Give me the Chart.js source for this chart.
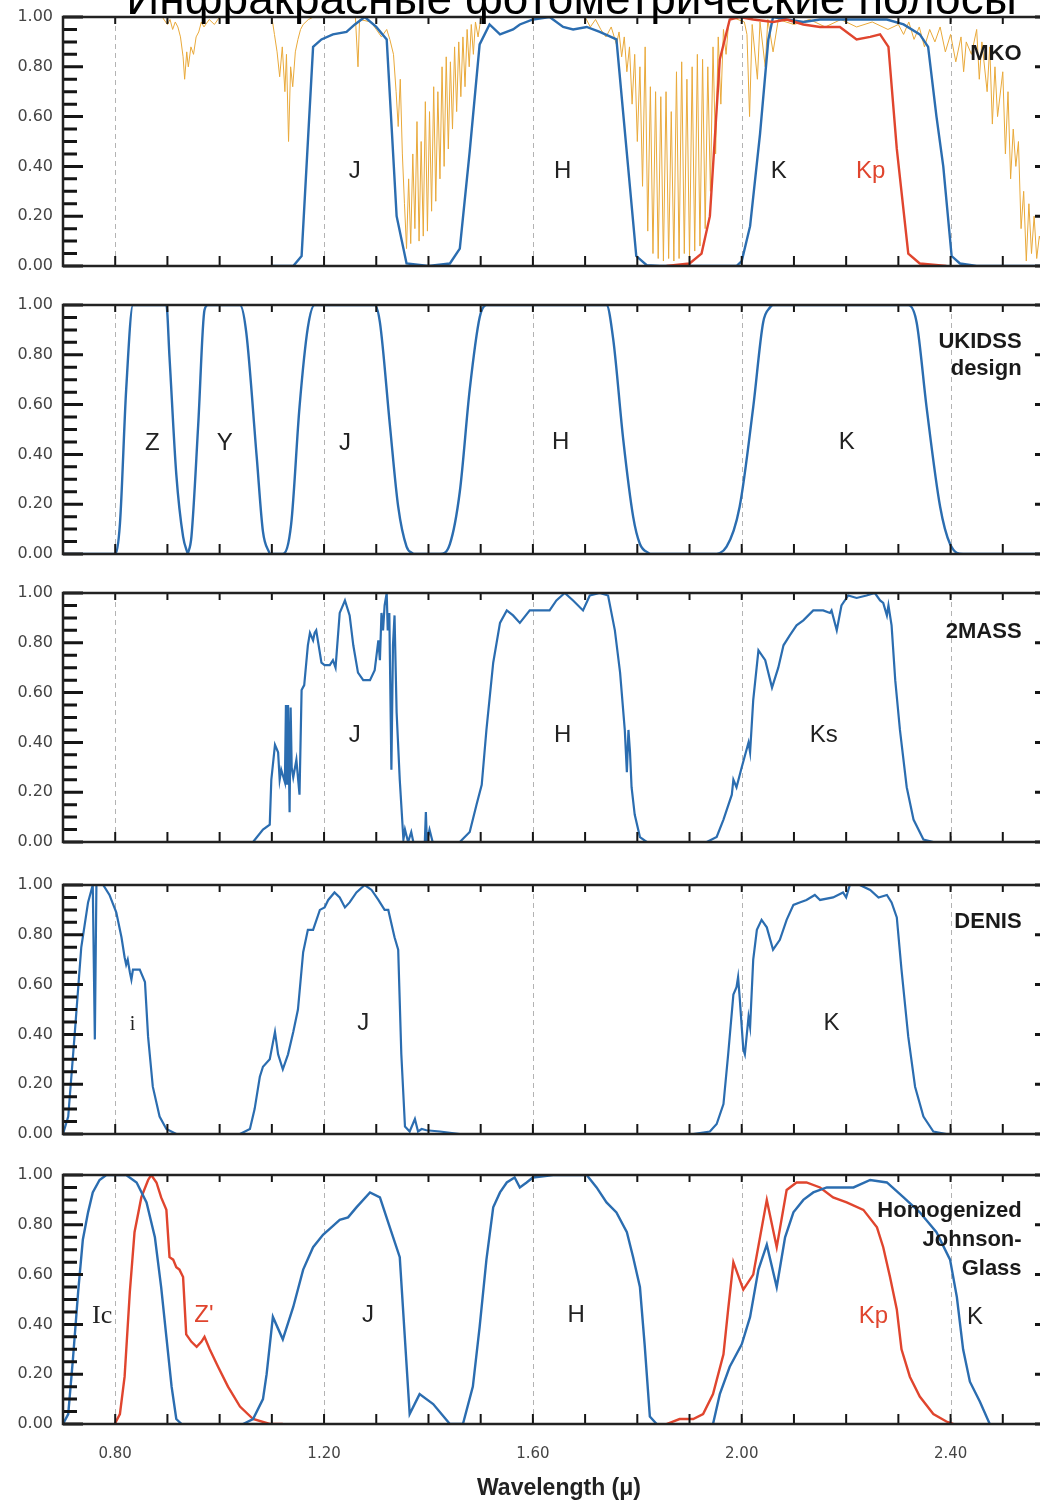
<!DOCTYPE html>
<html lang="ru">
<head>
<meta charset="utf-8">
<title>Инфракрасные фотометрические полосы</title>
<script src="https://cdn.jsdelivr.net/npm/chart.js@4.4.1/dist/chart.umd.min.js"></script>
<style>
  html, body { margin: 0; padding: 0; background: #fff; }
  #wrap { position: relative; width: 1040px; height: 1505px; overflow: hidden; background: #fff; }
  #wrap canvas { position: absolute; left: 0; }
  #titulo { position: absolute; left: 0; top: -25px; width: 1143px; text-align: center;
            font: 46px/46px 'Liberation Sans', Arial, sans-serif; color: #000; white-space: nowrap; z-index: 5; }
</style>
</head>
<body>
<div id="wrap">
  <canvas id="p1" width="1060" height="289" style="top:-3px"></canvas>
  <canvas id="p2" width="1060" height="289" style="top:285px"></canvas>
  <canvas id="p3" width="1060" height="289" style="top:573px"></canvas>
  <canvas id="p4" width="1060" height="289" style="top:865px"></canvas>
  <canvas id="p5" width="1060" height="350" style="top:1155px"></canvas>
  <div id="titulo">Инфракрасные фотометрические полосы</div>
</div>
<script>
// axis values
const xMin = 0.70, xMax = 2.60;
const xLabelVals = [0.8, 1.2, 1.6, 2.0, 2.4];
const yLabelVals = [0, 0.2, 0.4, 0.6, 0.8, 1.0];

// MKO
const mkoJx = [1.10, 1.141, 1.157, 1.179, 1.195, 1.217, 1.243, 1.259, 1.278, 1.300, 1.320, 1.339, 1.358, 1.40];
const mkoJy = [0, 0, 0.04, 0.88, 0.91, 0.93, 0.94, 0.97, 1.0, 0.96, 0.91, 0.20, 0.01, 0];
const mkoHx = [1.40, 1.441, 1.460, 1.479, 1.498, 1.517, 1.537, 1.562, 1.575, 1.600, 1.632, 1.658, 1.677, 1.703, 1.728, 1.760, 1.798, 1.818, 1.843, 1.90];
const mkoHy = [0, 0.01, 0.07, 0.46, 0.89, 0.97, 0.93, 0.95, 0.97, 0.99, 1.0, 0.96, 0.95, 0.96, 0.94, 0.91, 0.04, 0.003, 0, 0];
const mkoKx = [1.90, 1.958, 1.990, 2.000, 2.016, 2.035, 2.051, 2.060, 2.086, 2.118, 2.150, 2.214, 2.278, 2.310, 2.341, 2.357, 2.373, 2.386, 2.402, 2.418, 2.450, 2.60];
const mkoKy = [0, 0, 0, 0.02, 0.16, 0.53, 0.91, 1.0, 0.99, 0.98, 0.99, 0.99, 0.99, 0.97, 0.93, 0.88, 0.60, 0.40, 0.04, 0.01, 0, 0];
const mkoKpx = [1.856, 1.900, 1.923, 1.939, 1.958, 1.977, 1.996, 2.022, 2.060, 2.086, 2.118, 2.150, 2.188, 2.220, 2.246, 2.265, 2.281, 2.297, 2.319, 2.341, 2.392];
const mkoKpy = [0, 0.01, 0.05, 0.20, 0.83, 0.99, 1.0, 0.99, 0.98, 0.99, 0.97, 0.96, 0.96, 0.91, 0.92, 0.93, 0.88, 0.47, 0.05, 0.01, 0];

// atmospheric transmission (orange) in the MKO panel
const atmX = [0.70, 0.89, 0.90, 0.905, 0.91, 0.915, 0.92, 0.925, 0.93, 0.933, 0.937, 0.94, 0.945, 0.95, 0.955, 0.96, 0.965, 0.97, 0.98, 0.99, 1.00,
  1.10, 1.105, 1.11, 1.115, 1.12, 1.125, 1.128, 1.132, 1.136, 1.14, 1.145, 1.15, 1.155, 1.16, 1.17, 1.18,
  1.26, 1.265, 1.268, 1.29, 1.30, 1.31, 1.32, 1.326, 1.333, 1.338, 1.342, 1.346, 1.350, 1.354, 1.358, 1.362, 1.366, 1.370, 1.374, 1.378,
  1.382, 1.386, 1.390, 1.394, 1.398, 1.402, 1.406, 1.410, 1.414, 1.418, 1.422, 1.426, 1.430, 1.434, 1.438, 1.442, 1.446, 1.450, 1.454,
  1.458, 1.462, 1.466, 1.470, 1.474, 1.478, 1.482, 1.486, 1.490, 1.495, 1.50, 1.51,
  1.70, 1.71, 1.72, 1.73, 1.74, 1.75, 1.76, 1.765, 1.77, 1.775, 1.78, 1.785, 1.79, 1.795, 1.80, 1.805, 1.81, 1.815, 1.82, 1.825, 1.83,
  1.835, 1.84, 1.845, 1.85, 1.855, 1.86, 1.865, 1.87, 1.875, 1.88, 1.885, 1.89, 1.895, 1.90, 1.905, 1.91, 1.915, 1.92, 1.925, 1.93,
  1.935, 1.94, 1.945, 1.95, 1.955, 1.96, 1.965, 1.97, 1.975, 1.98,
  2.005, 2.01, 2.015, 2.02, 2.03, 2.035, 2.045, 2.05, 2.06, 2.07, 2.10, 2.13, 2.16, 2.19, 2.22, 2.25, 2.28, 2.30, 2.31, 2.32, 2.33,
  2.34, 2.35, 2.36, 2.37, 2.38, 2.39, 2.40, 2.41, 2.42, 2.425, 2.43, 2.44, 2.45, 2.455, 2.46, 2.47, 2.475, 2.48, 2.485, 2.49, 2.50,
  2.505, 2.51, 2.515, 2.52, 2.525, 2.53, 2.535, 2.54, 2.545, 2.55, 2.555, 2.56, 2.565, 2.57, 2.58, 2.59, 2.60];
const atmY = [1.0, 1.0, 0.97, 0.99, 0.95, 0.98, 0.96, 0.92, 0.84, 0.75, 0.86, 0.80, 0.88, 0.85, 0.92, 0.94, 0.98, 0.96, 0.99, 0.97, 1.0,
  1.0, 0.93, 0.86, 0.76, 0.88, 0.70, 0.85, 0.50, 0.80, 0.72, 0.86, 0.91, 0.95, 0.97, 0.99, 1.0,
  1.0, 0.80, 0.99, 0.98, 0.95, 0.92, 0.95, 0.91, 0.85, 0.70, 0.56, 0.75, 0.45, 0.25, 0.07, 0.35, 0.09, 0.45, 0.15, 0.58,
  0.10, 0.50, 0.12, 0.66, 0.14, 0.62, 0.22, 0.72, 0.26, 0.70, 0.35, 0.80, 0.40, 0.84, 0.47, 0.82, 0.55, 0.88, 0.62,
  0.90, 0.68, 0.92, 0.72, 0.95, 0.80, 0.97, 0.85, 0.98, 0.92, 0.99, 1.0,
  1.0, 0.96, 0.99, 0.95, 0.92, 0.96, 0.89, 0.94, 0.84, 0.92, 0.78, 0.88, 0.65, 0.85, 0.50, 0.80, 0.32, 0.88, 0.14, 0.72, 0.05,
  0.70, 0.03, 0.68, 0.02, 0.70, 0.03, 0.62, 0.02, 0.78, 0.03, 0.82, 0.05, 0.75, 0.03, 0.80, 0.06, 0.85, 0.08, 0.83, 0.15,
  0.80, 0.30, 0.88, 0.45, 0.92, 0.65, 0.95, 0.85, 0.98, 1.0,
  0.98, 0.93, 0.60, 0.97, 0.75, 0.98, 0.80, 0.99, 0.86, 0.99, 0.97, 0.99, 0.96, 0.99, 0.96, 0.98, 0.95, 0.97, 0.93, 0.98, 0.91,
  0.96, 0.88, 0.95, 0.90, 0.96, 0.86, 0.93, 0.82, 0.92, 0.78, 0.90, 0.85, 0.95, 0.75, 0.90, 0.70, 0.88, 0.57, 0.80, 0.60, 0.78,
  0.45, 0.70, 0.35, 0.55, 0.40, 0.50, 0.15, 0.30, 0.02, 0.25, 0.05, 0.20, 0.03, 0.12, 0.05, 0.10, 0.04];

// UKIDSS design
const ukZx = [0.70, 0.799, 0.809, 0.821, 0.834, 0.898, 0.904, 0.917, 0.930, 0.939];
const ukZy = [0, 0, 0.12, 0.66, 1.0, 1.0, 0.79, 0.32, 0.07, 0];
const ukYx = [0.939, 0.946, 0.959, 0.971, 0.978, 1.039, 1.051, 1.071, 1.083, 1.096];
const ukYy = [0, 0.07, 0.52, 0.98, 1.0, 1.0, 0.89, 0.39, 0.09, 0];
const ukJx = [1.096, 1.121, 1.137, 1.153, 1.169, 1.182, 1.297, 1.307, 1.326, 1.342, 1.358, 1.371];
const ukJy = [0, 0, 0.12, 0.59, 0.91, 1.0, 1.0, 0.93, 0.52, 0.19, 0.03, 0];
const ukHx = [1.371, 1.422, 1.441, 1.460, 1.479, 1.498, 1.511, 1.741, 1.754, 1.773, 1.792, 1.805, 1.824];
const ukHy = [0, 0, 0.04, 0.25, 0.66, 0.95, 1.0, 1.0, 0.86, 0.46, 0.15, 0.04, 0];
const ukKx = [1.824, 1.945, 1.971, 1.996, 2.022, 2.041, 2.054, 2.060, 2.319, 2.335, 2.354, 2.380, 2.399, 2.424, 2.60];
const ukKy = [0, 0, 0.03, 0.19, 0.59, 0.93, 0.99, 1.0, 1.0, 0.93, 0.59, 0.19, 0.04, 0, 0];

// 2MASS
const tmJx = [1.064, 1.083, 1.096, 1.099, 1.106, 1.112, 1.115, 1.118, 1.125, 1.127, 1.129, 1.131, 1.134, 1.136, 1.138, 1.141, 1.147,
  1.153, 1.157, 1.162, 1.169, 1.173, 1.179, 1.182, 1.185, 1.195, 1.201, 1.211, 1.217, 1.222, 1.230, 1.240, 1.249, 1.256, 1.265, 1.275,
  1.288, 1.297, 1.304, 1.307, 1.310, 1.313, 1.316, 1.320, 1.322, 1.325, 1.329, 1.332, 1.335, 1.339, 1.345, 1.352, 1.355, 1.361, 1.367,
  1.371, 1.393, 1.395, 1.397, 1.402, 1.408];
const tmJy = [0, 0.05, 0.07, 0.25, 0.39, 0.36, 0.25, 0.29, 0.24, 0.55, 0.23, 0.55, 0.12, 0.54, 0.30, 0.26, 0.33,
  0.19, 0.61, 0.63, 0.79, 0.84, 0.81, 0.84, 0.85, 0.72, 0.71, 0.71, 0.73, 0.70, 0.92, 0.97, 0.91, 0.79, 0.68, 0.65,
  0.65, 0.69, 0.81, 0.73, 0.92, 0.85, 0.95, 1.0, 0.85, 0.92, 0.29, 0.79, 0.91, 0.52, 0.25, 0.01, 0.05, 0, 0.04,
  0, 0, 0.12, 0, 0.05, 0];
const tmHx = [1.45, 1.460, 1.479, 1.492, 1.502, 1.511, 1.524, 1.537, 1.550, 1.562, 1.575, 1.594, 1.613, 1.632, 1.645, 1.661, 1.677,
  1.696, 1.709, 1.728, 1.744, 1.757, 1.767, 1.776, 1.780, 1.783, 1.786, 1.789, 1.795, 1.805, 1.818];
const tmHy = [0, 0, 0.04, 0.15, 0.23, 0.45, 0.72, 0.88, 0.93, 0.91, 0.88, 0.93, 0.93, 0.93, 0.97, 1.0, 0.97,
  0.93, 0.99, 1.0, 0.99, 0.85, 0.68, 0.45, 0.28, 0.45, 0.36, 0.22, 0.11, 0.02, 0];
const tmKsx = [1.933, 1.952, 1.965, 1.981, 1.984, 1.990, 2.000, 2.013, 2.016, 2.022, 2.032, 2.045, 2.058, 2.070, 2.080, 2.092, 2.105,
  2.118, 2.137, 2.156, 2.169, 2.172, 2.182, 2.191, 2.204, 2.220, 2.239, 2.255, 2.265, 2.271, 2.278, 2.281, 2.287, 2.294, 2.303, 2.316,
  2.329, 2.348, 2.367];
const tmKsy = [0, 0.02, 0.09, 0.19, 0.25, 0.22, 0.30, 0.40, 0.36, 0.57, 0.77, 0.73, 0.62, 0.70, 0.79, 0.83, 0.87,
  0.89, 0.93, 0.93, 0.92, 0.93, 0.85, 0.95, 0.99, 0.98, 0.99, 1.0, 0.97, 0.96, 0.91, 0.95, 0.87, 0.65, 0.45, 0.22,
  0.09, 0.01, 0];

// DENIS
const dnIx = [0.700, 0.710, 0.722, 0.735, 0.748, 0.757, 0.761, 0.764, 0.777, 0.789, 0.802, 0.812, 0.818, 0.821, 0.824, 0.828, 0.831,
  0.834, 0.847, 0.857, 0.863, 0.872, 0.885, 0.898, 0.917];
const dnIy = [0, 0.07, 0.39, 0.75, 0.93, 1.0, 0.38, 1.0, 1.0, 0.96, 0.89, 0.79, 0.71, 0.68, 0.70, 0.65, 0.62,
  0.66, 0.66, 0.61, 0.39, 0.19, 0.07, 0.02, 0];
const dnJx = [1.039, 1.058, 1.067, 1.077, 1.083, 1.096, 1.106, 1.112, 1.121, 1.131, 1.141, 1.150, 1.160, 1.169, 1.179, 1.192, 1.201,
  1.208, 1.220, 1.230, 1.240, 1.249, 1.262, 1.278, 1.291, 1.304, 1.316, 1.323, 1.335, 1.342, 1.348, 1.355, 1.364, 1.374, 1.380, 1.387,
  1.396, 1.422, 1.460];
const dnJy = [0, 0.02, 0.10, 0.23, 0.27, 0.30, 0.41, 0.32, 0.26, 0.32, 0.41, 0.50, 0.73, 0.82, 0.82, 0.90, 0.91,
  0.94, 0.97, 0.95, 0.91, 0.93, 0.97, 1.0, 0.98, 0.94, 0.90, 0.90, 0.79, 0.74, 0.32, 0.03, 0.01, 0.06, 0.01, 0.02,
  0.015, 0.01, 0];
const dnKx = [1.907, 1.939, 1.952, 1.965, 1.974, 1.984, 1.990, 1.993, 1.996, 2.003, 2.006, 2.013, 2.016, 2.022, 2.029, 2.038, 2.048,
  2.060, 2.073, 2.086, 2.099, 2.111, 2.124, 2.140, 2.150, 2.175, 2.194, 2.200, 2.207, 2.226, 2.246, 2.262, 2.278, 2.287, 2.297, 2.306,
  2.319, 2.332, 2.348, 2.367, 2.392];
const dnKy = [0, 0.01, 0.04, 0.12, 0.32, 0.56, 0.59, 0.63, 0.55, 0.34, 0.32, 0.47, 0.43, 0.70, 0.82, 0.86, 0.83,
  0.74, 0.78, 0.86, 0.92, 0.93, 0.94, 0.96, 0.94, 0.95, 0.97, 0.95, 1.0, 1.0, 0.98, 0.95, 0.96, 0.93, 0.87, 0.66,
  0.39, 0.19, 0.07, 0.01, 0];

// Homogenized Johnson-Glass
const hjIcx = [0.700, 0.710, 0.719, 0.729, 0.738, 0.748, 0.757, 0.770, 0.783, 0.821, 0.841, 0.860, 0.876, 0.888, 0.898, 0.908, 0.917, 0.927];
const hjIcy = [0, 0.04, 0.26, 0.53, 0.74, 0.85, 0.93, 0.98, 1.0, 1.0, 0.97, 0.89, 0.75, 0.55, 0.35, 0.15, 0.02, 0];
const hjZx = [0.799, 0.809, 0.818, 0.828, 0.837, 0.850, 0.863, 0.869, 0.879, 0.888, 0.898, 0.904, 0.911, 0.917, 0.923, 0.930, 0.936,
  0.946, 0.956, 0.965, 0.971, 0.981, 0.997, 1.016, 1.039, 1.064, 1.096, 1.121];
const hjZy = [0, 0.04, 0.19, 0.53, 0.77, 0.91, 0.98, 1.0, 0.97, 0.91, 0.86, 0.67, 0.66, 0.63, 0.62, 0.59, 0.36,
  0.33, 0.31, 0.33, 0.35, 0.30, 0.23, 0.15, 0.07, 0.02, 0, 0];
const hjJx = [1.045, 1.064, 1.083, 1.090, 1.102, 1.121, 1.141, 1.160, 1.179, 1.198, 1.214, 1.230, 1.246, 1.262, 1.288, 1.307, 1.326,
  1.345, 1.364, 1.383, 1.409, 1.441, 1.466];
const hjJy = [0, 0.02, 0.10, 0.20, 0.43, 0.34, 0.47, 0.62, 0.71, 0.76, 0.79, 0.82, 0.83, 0.87, 0.93, 0.91, 0.79,
  0.67, 0.04, 0.12, 0.08, 0, 0];
const hjHx = [1.466, 1.485, 1.498, 1.511, 1.524, 1.537, 1.550, 1.565, 1.575, 1.588, 1.600, 1.639, 1.703, 1.722, 1.741, 1.760, 1.780,
  1.792, 1.805, 1.814, 1.824, 1.837];
const hjHy = [0, 0.15, 0.39, 0.66, 0.87, 0.93, 0.97, 0.99, 0.95, 0.97, 0.99, 1.0, 1.0, 0.95, 0.89, 0.85, 0.77,
  0.67, 0.55, 0.32, 0.03, 0];
const hjKpx = [1.856, 1.881, 1.907, 1.926, 1.945, 1.965, 1.974, 1.984, 2.003, 2.022, 2.035, 2.048, 2.067, 2.086, 2.105, 2.124, 2.150,
  2.175, 2.201, 2.233, 2.259, 2.271, 2.284, 2.297, 2.306, 2.322, 2.341, 2.367, 2.392, 2.405];
const hjKpy = [0, 0.02, 0.02, 0.04, 0.12, 0.28, 0.46, 0.65, 0.54, 0.60, 0.75, 0.90, 0.71, 0.94, 0.97, 0.97, 0.95,
  0.91, 0.89, 0.86, 0.79, 0.71, 0.59, 0.46, 0.30, 0.19, 0.11, 0.04, 0.01, 0];
const hjKx = [1.945, 1.958, 1.977, 2.000, 2.016, 2.032, 2.048, 2.067, 2.083, 2.099, 2.118, 2.137, 2.163, 2.188, 2.214, 2.246, 2.278,
  2.310, 2.341, 2.373, 2.399, 2.412, 2.424, 2.437, 2.456, 2.475];
const hjKy = [0, 0.12, 0.23, 0.32, 0.43, 0.62, 0.72, 0.55, 0.75, 0.85, 0.90, 0.93, 0.95, 0.95, 0.95, 0.98, 0.97,
  0.91, 0.85, 0.77, 0.66, 0.51, 0.30, 0.17, 0.09, 0];

// band labels (text, wavelength, baseline value)
const mkoLblText = ["J", "H", "K", "Kp"];
const mkoLblX = [1.259, 1.657, 2.071, 2.247];
const mkoLblY = [0.355, 0.352, 0.352, 0.352];
const ukLblText = ["Z", "Y", "J", "H", "K"];
const ukLblX = [0.871, 1.010, 1.240, 1.653, 2.201];
const ukLblY = [0.418, 0.418, 0.418, 0.422, 0.422];
const tmLblText = ["J", "H", "Ks"];
const tmLblX = [1.259, 1.657, 2.157];
const tmLblY = [0.40, 0.40, 0.40];
const dnLblText = ["i", "J", "K"];
const dnLblX = [0.833, 1.275, 2.172];
const dnLblY = [0.418, 0.418, 0.418];
const hjLblText = ["Ic", "Z'", "J", "H", "Kp", "K"];
const hjLblX = [0.775, 0.970, 1.284, 1.683, 2.252, 2.447];
const hjLblY = [0.405, 0.41, 0.41, 0.41, 0.405, 0.40];

// panel names, right aligned
const nameX = 2.536;
const mkoName = ["MKO"], mkoNameY = [0.826];
const ukName = ["UKIDSS", "design"], ukNameY = [0.826, 0.718];
const tmName = ["2MASS"], tmNameY = [0.82];
const dnName = ["DENIS"], dnNameY = [0.826];
const hjName = ["Homogenized", "Johnson-", "Glass"], hjNameY = [0.833, 0.715, 0.599];

const BLUE = "#2b6db0";
const RED = "#e0452e";
const ORANGE = "#e9a93a";
const INK = "#222";
const SANS = "'Liberation Sans', Arial, sans-serif";
const SERIF = "'Liberation Serif', 'Times New Roman', serif";

function serie(xs, ys, color, width, extra) {
  let ds = {
    data: xs.map((x, i) => ({ x: x, y: ys[i] })),
    borderColor: color,
    borderWidth: width,
    pointRadius: 0,
    pointHoverRadius: 0,
    fill: false,
    tension: 0
  };
  return Object.assign(ds, extra || {});
}

// dashed verticals, frame and inward ticks
const framePlugin = {
  id: "frame",
  beforeDatasetsDraw(chart) {
    const { ctx, chartArea: a, scales } = chart;
    ctx.save();
    ctx.strokeStyle = "#b3b3b3";
    ctx.lineWidth = 1;
    ctx.setLineDash([5, 4]);
    for (const v of xLabelVals) {
      const px = Math.round(scales.x.getPixelForValue(v)) + 0.5;
      ctx.beginPath();
      ctx.moveTo(px, a.top);
      ctx.lineTo(px, a.bottom);
      ctx.stroke();
    }
    ctx.restore();
  },
  afterDatasetsDraw(chart) {
    const { ctx, chartArea: a, scales } = chart;
    ctx.save();
    ctx.strokeStyle = "#151515";
    ctx.lineWidth = 3;
    for (let k = 0; k <= 20; k++) {
      const py = scales.y.getPixelForValue(k * 0.05);
      const len = k % 4 === 0 ? 20 : 14;
      ctx.beginPath();
      ctx.moveTo(a.left, py); ctx.lineTo(a.left + len, py);
      ctx.moveTo(a.right, py); ctx.lineTo(a.right - len, py);
      ctx.stroke();
    }
    ctx.lineWidth = 2;
    for (let k = 7; k <= 26; k++) {
      const px = scales.x.getPixelForValue(k / 10);
      ctx.beginPath();
      ctx.moveTo(px, a.bottom); ctx.lineTo(px, a.bottom - 10);
      ctx.moveTo(px, a.top); ctx.lineTo(px, a.top + 7);
      ctx.stroke();
    }
    ctx.strokeStyle = "#222";
    ctx.lineWidth = 2.5;
    ctx.strokeRect(a.left, a.top, a.right - a.left, a.bottom - a.top);
    ctx.restore();
  }
};

function textPlugin(items) {
  return {
    id: "bandText",
    afterDraw(chart) {
      const { ctx, scales } = chart;
      ctx.save();
      ctx.textBaseline = "alphabetic";
      for (const t of items) {
        ctx.font = t.font;
        ctx.fillStyle = t.color;
        ctx.textAlign = t.align;
        ctx.fillText(t.text, scales.x.getPixelForValue(t.x), scales.y.getPixelForValue(t.y));
      }
      ctx.restore();
    }
  };
}

function labelItems(texts, xs, ys, colors, fonts) {
  return texts.map((t, i) => ({
    text: t, x: xs[i], y: ys[i],
    color: colors[i] || INK,
    font: fonts[i] || ("24px " + SANS),
    align: "center"
  }));
}

function nameItems(lines, ys) {
  return lines.map((t, i) => ({
    text: t, x: nameX, y: ys[i], color: "#1a1a1a", font: "bold 22px " + SANS, align: "right"
  }));
}

// every canvas starts 20px above its plot box; the plot box is 249px tall
function renderPanel(id, datasets, items, bottomAxis) {
  const conf = {
    type: "line",
    data: { datasets: datasets },
    options: {
      responsive: false,
      maintainAspectRatio: false,
      animation: false,
      devicePixelRatio: 1,
      layout: { padding: { top: 20, bottom: bottomAxis ? 0 : 20, left: 0, right: 5 } },
      plugins: { legend: { display: false }, tooltip: { enabled: false } },
      scales: {
        x: {
          type: "linear",
          min: xMin,
          max: xMax,
          display: bottomAxis,
          grid: { display: false, drawTicks: false },
          border: { display: false },
          afterBuildTicks: s => { s.ticks = xLabelVals.map(v => ({ value: v })); },
          afterFit: s => { s.height = bottomAxis ? 81 : 0; },
          ticks: {
            autoSkip: false, maxRotation: 0, padding: 21,
            color: "#444",
            font: { family: "'DejaVu Sans', sans-serif", size: 15 },
            callback: v => Number(v).toFixed(2)
          },
          title: {
            display: true,
            text: "Wavelength (μ)",
            color: INK,
            font: { family: SANS, size: 23, weight: "bold" },
            padding: { top: 0, bottom: 3 }
          }
        },
        y: {
          min: 0,
          max: 1,
          grid: { display: false, drawTicks: false },
          border: { display: false },
          afterBuildTicks: s => { s.ticks = yLabelVals.map(v => ({ value: v })); },
          afterFit: s => { s.width = 63; },
          ticks: {
            padding: 10,
            color: "#444",
            font: { family: "'DejaVu Sans', sans-serif", size: 16 },
            callback: v => Number(v).toFixed(2)
          }
        }
      }
    },
    plugins: [framePlugin, textPlugin(items)]
  };
  return new Chart(document.getElementById(id), conf);
}

const smooth = { cubicInterpolationMode: "monotone" };

renderPanel("p1", [
  serie(mkoKpx, mkoKpy, RED, 2.4, { order: 1 }),
  serie(mkoJx, mkoJy, BLUE, 2.4, { order: 2 }),
  serie(mkoHx, mkoHy, BLUE, 2.4, { order: 2 }),
  serie(mkoKx, mkoKy, BLUE, 2.4, { order: 2 }),
  serie(atmX, atmY, ORANGE, 1, { order: 3 })
], labelItems(mkoLblText, mkoLblX, mkoLblY, [INK, INK, INK, RED], []).concat(nameItems(mkoName, mkoNameY)), false);

renderPanel("p2", [
  serie(ukZx, ukZy, BLUE, 2.4, smooth),
  serie(ukYx, ukYy, BLUE, 2.4, smooth),
  serie(ukJx, ukJy, BLUE, 2.4, smooth),
  serie(ukHx, ukHy, BLUE, 2.4, smooth),
  serie(ukKx, ukKy, BLUE, 2.4, smooth)
], labelItems(ukLblText, ukLblX, ukLblY, [], []).concat(nameItems(ukName, ukNameY)), false);

renderPanel("p3", [
  serie(tmJx, tmJy, BLUE, 2.2),
  serie(tmHx, tmHy, BLUE, 2.2),
  serie(tmKsx, tmKsy, BLUE, 2.2)
], labelItems(tmLblText, tmLblX, tmLblY, [], []).concat(nameItems(tmName, tmNameY)), false);

renderPanel("p4", [
  serie(dnIx, dnIy, BLUE, 2.2),
  serie(dnJx, dnJy, BLUE, 2.2),
  serie(dnKx, dnKy, BLUE, 2.2)
], labelItems(dnLblText, dnLblX, dnLblY, [], ["20px " + SERIF]).concat(nameItems(dnName, dnNameY)), false);

renderPanel("p5", [
  serie(hjKx, hjKy, BLUE, 2.4, { order: 1 }),
  serie(hjIcx, hjIcy, BLUE, 2.4, { order: 2 }),
  serie(hjJx, hjJy, BLUE, 2.4, { order: 2 }),
  serie(hjHx, hjHy, BLUE, 2.4, { order: 2 }),
  serie(hjZx, hjZy, RED, 2.4, { order: 2 }),
  serie(hjKpx, hjKpy, RED, 2.4, { order: 2 })
], labelItems(hjLblText, hjLblX, hjLblY, [INK, RED, INK, INK, RED, INK], ["26px " + SERIF]).concat(nameItems(hjName, hjNameY)), true);
</script>
</body>
</html>
